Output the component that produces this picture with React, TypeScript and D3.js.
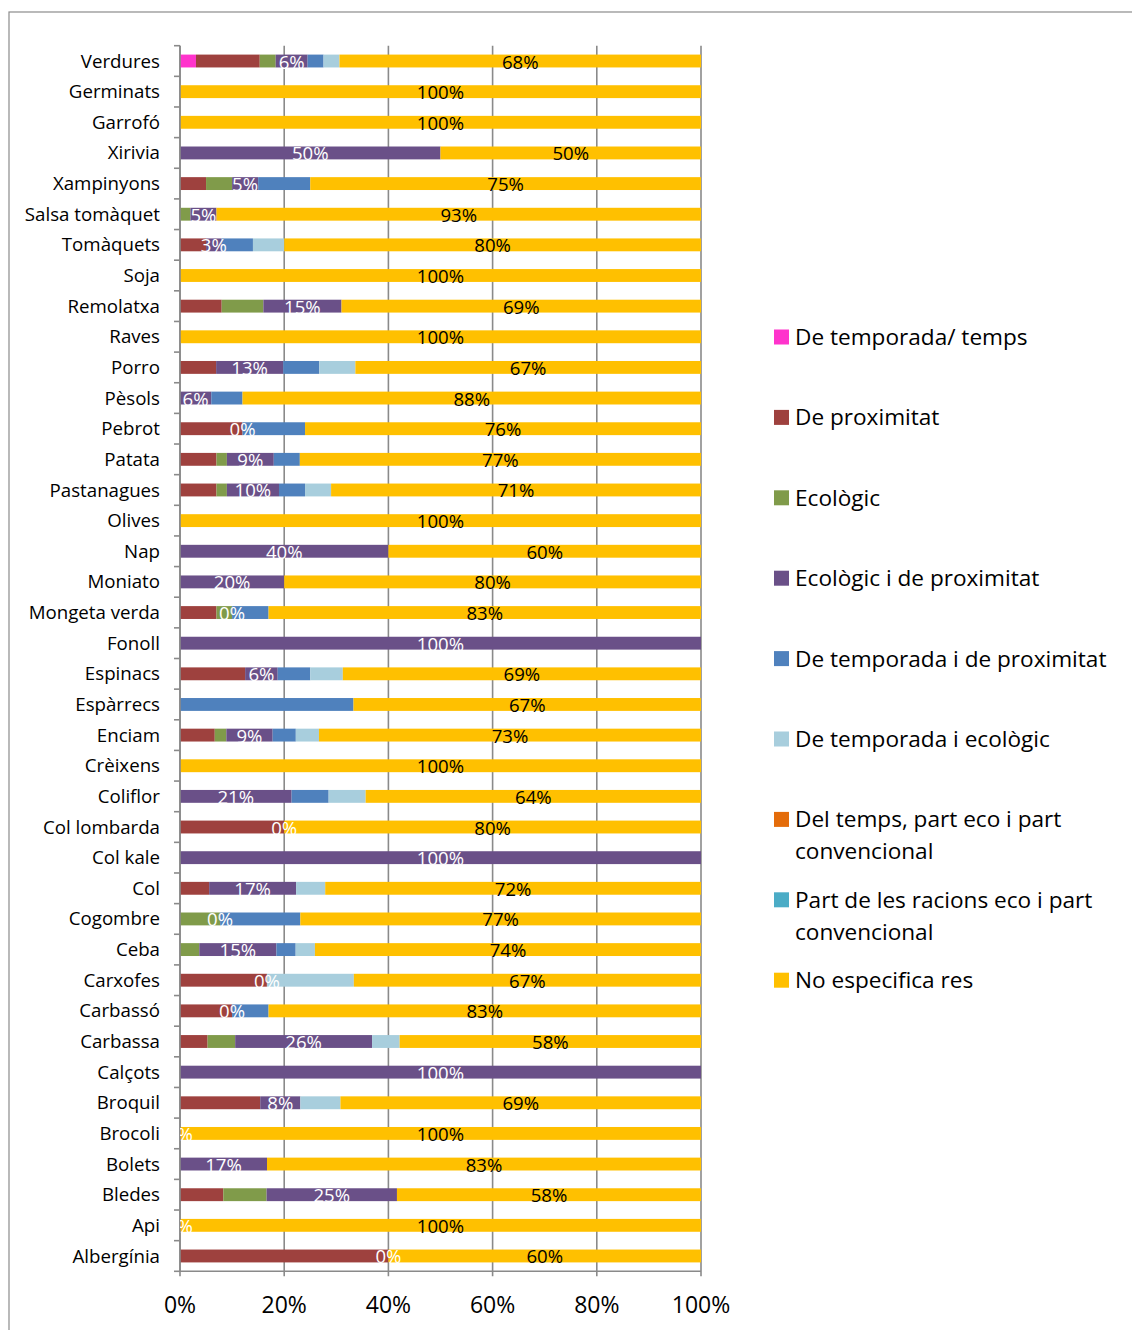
import React from "react";
import * as d3 from "d3";

const categories = ["Verdures","Germinats","Garrofó","Xirivia","Xampinyons","Salsa tomàquet","Tomàquets","Soja","Remolatxa","Raves","Porro","Pèsols","Pebrot","Patata","Pastanagues","Olives","Nap","Moniato","Mongeta verda","Fonoll","Espinacs","Espàrrecs","Enciam","Crèixens","Coliflor","Col lombarda","Col kale","Col","Cogombre","Ceba","Carxofes","Carbassó","Carbassa","Calçots","Broquil","Brocoli","Bolets","Bledes","Api","Albergínia"];

const seriesNames = ["De temporada/ temps","De proximitat","Ecològic","Ecològic i de proximitat","De temporada i de proximitat","De temporada i ecològic","Del temps, part eco i part convencional","Part de les racions eco i part convencional","No especifica res"];
const legendLines = [["De temporada/ temps"],["De proximitat"],["Ecològic"],["Ecològic i de proximitat"],["De temporada i de proximitat"],["De temporada i ecològic"],["Del temps, part eco i part","convencional"],["Part de les racions eco i part","convencional"],["No especifica res"]];
const colors = ["#FF33CC","#9E413E","#809B4A","#6A5088","#4F81BD","#A8CEDD","#E46C0A","#4BACC6","#FFC000"];

const temporadaTemps = [3,0,0,0,0,0,0,0,0,0,0,0,0,0,0,0,0,0,0,0,0,0,0,0,0,0,0,0,0,0,0,0,0,0,0,0,0,0,0,0];
const proximitat = [12,0,0,0,5,0,5,0,8,0,7,0,12,7,7,0,0,0,7,0,12.5,0,6.67,0,0,20,0,5.6,0,0,16.7,10,5.3,0,15.4,0,0,8.3,0,40];
const ecologic = [3,0,0,0,5,2,0,0,8,0,0,0,0,2,2,0,0,0,3,0,0,0,2.22,0,0,0,0,0,7.7,3.7,0,0,5.3,0,0,0,0,8.3,0,0];
const ecoProximitat: (number | null)[] = [6,null,null,50,5,5,3,null,15,null,13,6,0,9,10,null,40,20,0,100,6.25,null,8.89,null,21.4,0,100,16.7,0,14.8,0,0,26.3,100,7.7,0,16.7,25,0,0];
const tempProximitat = [3,0,0,0,10,0,6,0,0,0,7,6,12,5,5,0,0,0,7,0,6.25,33.3,4.44,0,7.1,0,0,0,15.4,3.7,0,7,0,0,0,0,0,0,0,0];
const tempEcologic = [3,0,0,0,0,0,6,0,0,0,7,0,0,0,5,0,0,0,0,0,6.25,0,4.44,0,7.1,0,0,5.6,0,3.7,16.7,0,5.3,0,7.7,0,0,0,0,0];
const tempsPartEco = [0,0,0,0,0,0,0,0,0,0,0,0,0,0,0,0,0,0,0,0,0,0,0,0,0,0,0,0,0,0,0,0,0,0,0,0,0,0,0,0];
const racionsEco = [0,0,0,0,0,0,0,0,0,0,0,0,0,0,0,0,0,0,0,0,0,0,0,0,0,0,0,0,0,0,0,0,0,0,0,0,0,0,0,0];
const noEspecifica: (number | null)[] = [68,100,100,50,75,93,80,100,69,100,67,88,76,77,71,100,60,80,83,null,68.75,66.7,73.3,100,64.3,80,null,72.2,76.9,74.1,66.7,83,57.9,null,69.2,100,83.3,58.3,100,60];

const xTicks = [0, 0.2, 0.4, 0.6, 0.8, 1];

const seriesData: (number | null)[][] = [temporadaTemps, proximitat, ecologic, ecoProximitat, tempProximitat, tempEcologic, tempsPartEco, racionsEco, noEspecifica];

const FONT = "'Open Sans', sans-serif";

export default function App() {
  const width = 1132, height = 1330;
  const plot = { left: 180, right: 701, top: 45.7, bottom: 1271.3 };

  const x = d3.scaleLinear().domain([0, 1]).range([plot.left, plot.right]);
  const y = d3.scaleBand<string>().domain(categories).range([plot.top, plot.bottom]).paddingInner(0.58).paddingOuter(0.29);

  const keys = seriesNames.map((_, i) => "s" + i);
  const rows = categories.map((c, ri) => {
    const o: any = { cat: c };
    keys.forEach((k, si) => { o[k] = seriesData[si][ri] ?? 0; });
    return o;
  });
  const stacked = d3.stack<any>().keys(keys).offset(d3.stackOffsetExpand)(rows);
  const fmt = d3.format(".0f");

  const gridColor = "#8A8A8A";

  return (
    <svg width={width} height={height} style={{ position: "absolute", left: 0, top: 0, background: "#fff" }} fontFamily={FONT}>
      <defs>
        <clipPath id="plotclip">
          <rect x={plot.left} y={0} width={plot.right - plot.left + 1} height={height} />
        </clipPath>
      </defs>
      <rect x={9} y={12} width={1400} height={1500} fill="#fff" stroke="#8C8C8C" strokeWidth={1.2} />

      {/* gridlines */}
      {xTicks.map((t) => (
        <line key={"g" + t} x1={x(t)} x2={x(t)} y1={plot.top} y2={plot.bottom + 5} stroke={gridColor} strokeWidth={1.6} />
      ))}

      {/* bars */}
      {stacked.map((layer, si) => (
        <g key={"l" + si} fill={colors[si]}>
          {layer.map((d, ri) => {
            const w = x(d[1]) - x(d[0]);
            if (w <= 0) return null;
            return (
              <rect key={ri} x={x(d[0])} y={y(categories[ri])!} width={w} height={y.bandwidth()} />
            );
          })}
        </g>
      ))}

      {/* y axis */}
      <line x1={plot.left} x2={plot.left} y1={plot.top} y2={plot.bottom} stroke={gridColor} strokeWidth={1.6} />
      {d3.range(categories.length + 1).map((i) => {
        const yy = plot.top + (i * (plot.bottom - plot.top)) / categories.length;
        return <line key={"yt" + i} x1={plot.left - 6} x2={plot.left} y1={yy} y2={yy} stroke={gridColor} strokeWidth={1.6} />;
      })}
      {/* x axis */}
      <line x1={plot.left} x2={plot.right} y1={plot.bottom} y2={plot.bottom} stroke={gridColor} strokeWidth={1.6} />

      {/* category labels */}
      {categories.map((c) => (
        <text key={"c" + c} x={160} y={y(c)! + y.bandwidth() / 2} dy="0.35em" textAnchor="end" fontSize={18.7} fill="#000">{c}</text>
      ))}

      {/* x tick labels */}
      {xTicks.map((t) => (
        <text key={"xt" + t} x={x(t)} y={1305} dy="0.35em" textAnchor="middle" fontSize={23} fill="#000">{d3.format(".0%")(t)}</text>
      ))}

      {/* data labels */}
      <g clipPath="url(#plotclip)">
        {[3, 8].map((si) => (
          <g key={"dl" + si}>
            {stacked[si].map((d, ri) => {
              const v = seriesData[si][ri];
              if (v === null || v === undefined) return null;
              const cx = (x(d[0]) + x(d[1])) / 2;
              return (
                <text key={ri} x={cx} y={y(categories[ri])! + y.bandwidth() / 2 + 1} dy="0.35em" textAnchor="middle" fontSize={18.6} fill={si === 3 ? "#fff" : "#000"}>{fmt(v) + "%"}</text>
              );
            })}
          </g>
        ))}
      </g>

      {/* legend */}
      {legendLines.map((lines, i) => {
        const cy = 337 + i * 80.4;
        return (
          <g key={"lg" + i}>
            <rect x={774} y={cy - 7.5} width={15} height={15} fill={colors[i]} />
            {lines.map((ln, li) => (
              <text key={li} x={795} y={cy + li * 32} dy="0.35em" fontSize={22.6} fill="#000">{ln}</text>
            ))}
          </g>
        );
      })}
    </svg>
  );
}
